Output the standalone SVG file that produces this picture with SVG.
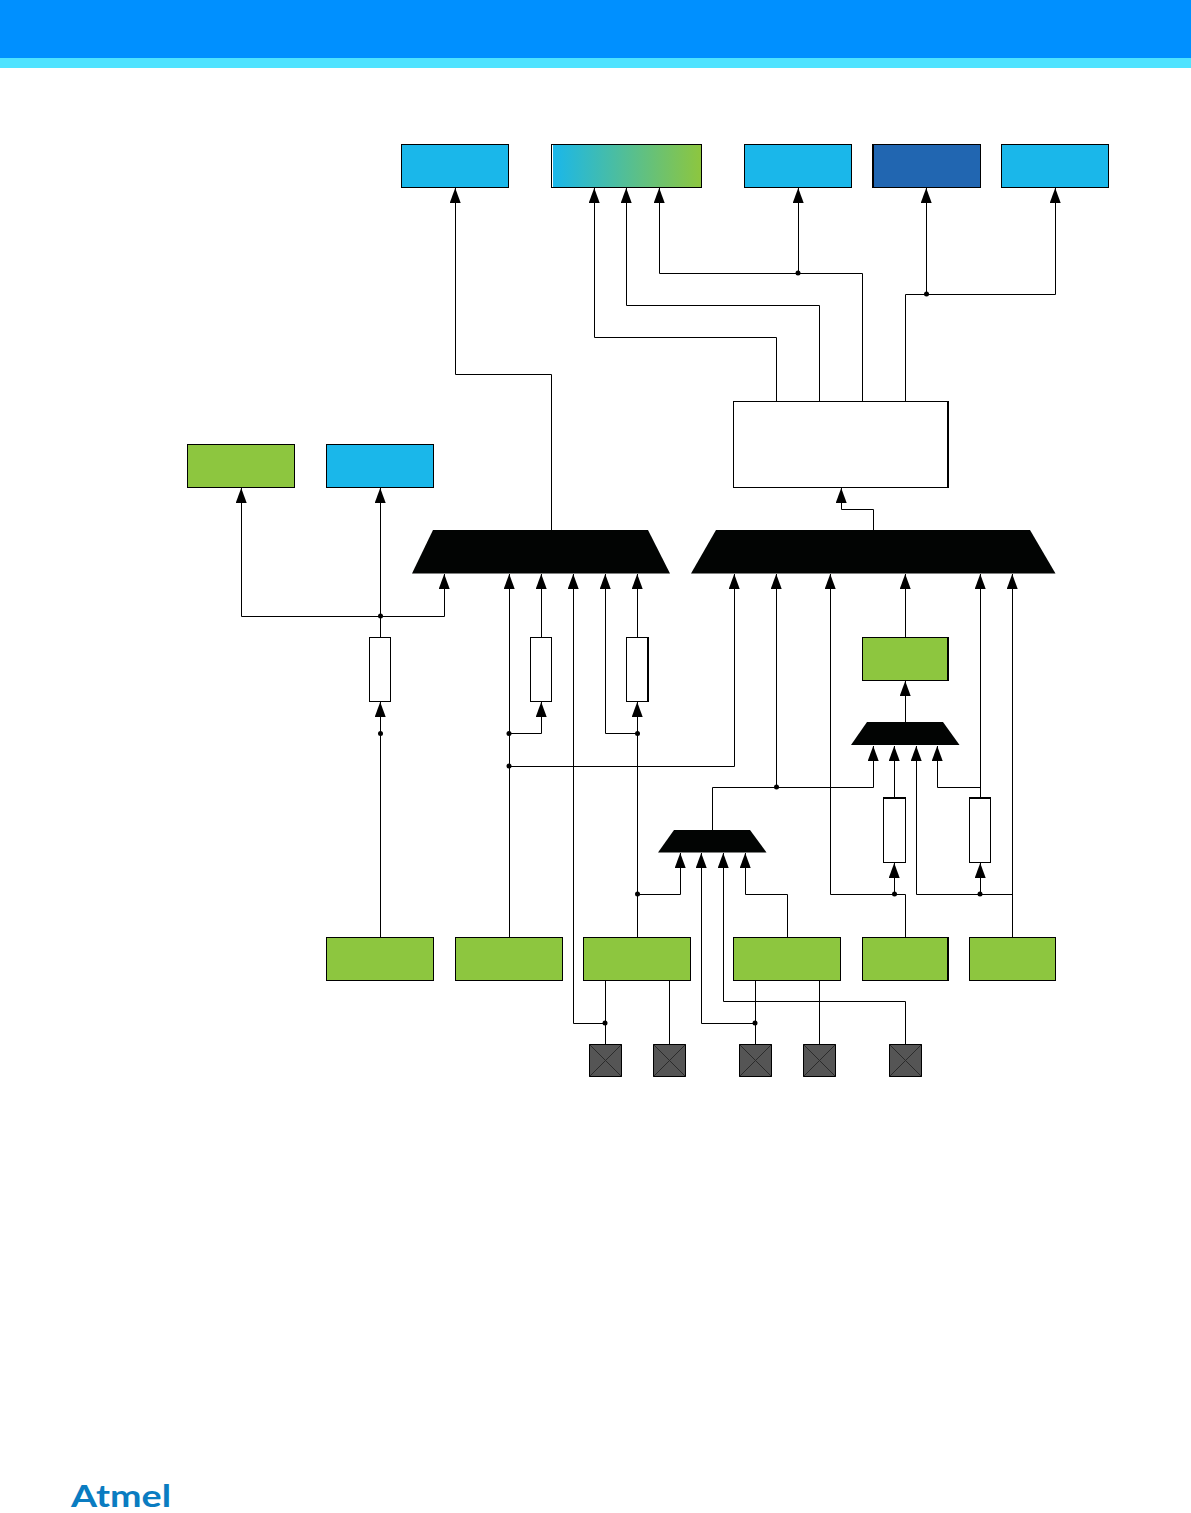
<svg xmlns="http://www.w3.org/2000/svg" width="1191" height="1513" viewBox="0 0 1191 1513">
<style>
.c{fill:none;stroke:#000;stroke-width:1}
.a{marker-end:url(#arr)}
.b{stroke:#000;stroke-width:1}
.e{fill:none;stroke:#000;stroke-width:2}
.blue{fill:#1ab7ea}
.green{fill:#8dc63f}
.white{fill:#fff}
.mux{fill:#020403}
.pad{fill:#555}
.x{stroke:#2b2b2b;stroke-width:1;fill:none}
.d{fill:#000}
</style>
<defs>
<marker id="arr" markerUnits="userSpaceOnUse" markerWidth="15" markerHeight="12" refX="15" refY="5.800" orient="auto"><path d="M0,0L15,5.500L0,11z" fill="#000"/></marker>
<linearGradient id="g"><stop offset="0" stop-color="#1ab7ea"/><stop offset="1" stop-color="#8dc63f"/></linearGradient>
</defs>
<rect width="1191" height="1513" fill="#fff"/>
<g id="header"><rect width="1191" height="58" fill="#0090ff"/><rect y="58" width="1191" height="10" fill="#4fe3ff"/></g>
<g id="connectors">
<path class="c a" d="M551.500,530V374.500H455.500V188"/>
<path class="c a" d="M776.500,401V337.500H594.500V188"/>
<path class="c a" d="M819.500,401V305.500H626.500V188"/>
<path class="c a" d="M862.500,401V273.500H659.500V188"/>
<path class="c a" d="M798.500,273V188"/>
<path class="c a" d="M905.500,401V294.500H1055.500V188"/>
<path class="c a" d="M926.500,294V188"/>
<path class="c a" d="M873.500,530V509.500H841.500V488"/>
<path class="c a" d="M241.500,616.500V488"/>
<path class="c a" d="M241.500,616.500H444.500V574"/>
<path class="c a" d="M380.500,637V488"/>
<path class="c a" d="M380.500,937V702"/>
<path class="c a" d="M509.500,937V574"/>
<path class="c a" d="M509.500,733.500H541.500V702"/>
<path class="c a" d="M509.500,766.500H734.500V574"/>
<path class="c a" d="M541.500,637V574"/>
<path class="c a" d="M605.500,1023.500H573.500V574"/>
<path class="c a" d="M637.500,733.500H605.500V574"/>
<path class="c a" d="M637.500,937V702"/>
<path class="c a" d="M637.500,637V574"/>
<path class="c a" d="M637.500,894.500H680.500V853"/>
<path class="c" d="M605.500,980V1044M669.500,980V1044M755.500,980V1044M819.500,980V1044"/>
<path class="c a" d="M755.500,1023.500H701.500V853"/>
<path class="c a" d="M905.500,1044V1001.500H723.500V853"/>
<path class="c a" d="M787.500,937V894.500H745.500V853"/>
<path class="c a" d="M712.500,830V787.500H873.500V746"/>
<path class="c a" d="M776.500,787V574"/>
<path class="c a" d="M894.500,798V746"/>
<path class="c a" d="M1012.500,894.500H916.500V746"/>
<path class="c a" d="M980.500,787.500H937.500V746"/>
<path class="c a" d="M980.500,798V574"/>
<path class="c a" d="M980.500,894V863"/>
<path class="c a" d="M905.500,937V894.500H830.500V574"/>
<path class="c a" d="M894.500,894V863"/>
<path class="c a" d="M1012.500,937V574"/>
<path class="c a" d="M905.500,722V681"/>
<path class="c a" d="M905.500,637V574"/>
<g id="junctions" class="d">
<circle cx="798" cy="273" r="2.500"/><circle cx="926.500" cy="294" r="2.500"/><circle cx="380.500" cy="616" r="2.500"/><circle cx="380.500" cy="733.500" r="2.500"/><circle cx="509" cy="733.500" r="2.500"/><circle cx="509" cy="766" r="2.500"/><circle cx="637.500" cy="733.500" r="2.500"/><circle cx="637.500" cy="894" r="2.500"/><circle cx="605" cy="1023" r="2.500"/><circle cx="755" cy="1023" r="2.500"/><circle cx="776.500" cy="787" r="2.500"/><circle cx="894.500" cy="894" r="2.500"/><circle cx="980" cy="894" r="2.500"/>
</g>
</g>
<g id="top1"><rect class="b blue" x="401.500" y="144.500" width="107" height="43"/></g>
<g id="top2"><rect class="b white" x="551.500" y="144.500" width="150" height="43"/><rect fill="url(#g)" x="553" y="145" width="148" height="42"/></g>
<g id="top3"><rect class="b blue" x="744.500" y="144.500" width="107" height="43"/></g>
<g id="top4"><rect class="b" fill="#2166b1" x="873.500" y="144.500" width="107" height="43"/><path class="e" d="M873,144V188"/></g>
<g id="top5"><rect class="b blue" x="1001.500" y="144.500" width="107" height="43"/></g>
<g id="left1"><rect class="b green" x="187.500" y="444.500" width="107" height="43"/></g>
<g id="left2"><rect class="b blue" x="326.500" y="444.500" width="107" height="43"/></g>
<g id="core"><rect class="b white" x="733.500" y="401.500" width="214" height="86"/><path class="e" d="M948,401V488"/></g>
<g id="mux1"><path class="mux" d="M433,530H648L670,573.500H412z"/></g>
<g id="mux2"><path class="mux" d="M716,530H1030L1055.500,573.500H691z"/></g>
<g id="mux3"><path class="mux" d="M867,722H943L959.500,745H851z"/></g>
<g id="mux4"><path class="mux" d="M674,830H750L766.500,852.500H658z"/></g>
<g id="mid-green"><rect class="b green" x="862.500" y="637.500" width="85" height="43"/><path class="e" d="M948,637V681"/></g>
<g id="r1"><rect class="b white" x="369.500" y="637.500" width="21" height="64"/></g>
<g id="r2"><rect class="b white" x="530.500" y="637.500" width="21" height="64"/></g>
<g id="r3"><rect class="b white" x="626.500" y="637.500" width="21" height="64"/><path class="e" d="M648,637V702"/></g>
<g id="r4"><rect class="b white" x="883.500" y="798.500" width="22" height="64"/><path class="e" d="M883,798H906"/></g>
<g id="r5"><rect class="b white" x="969.500" y="798.500" width="21" height="64"/><path class="e" d="M969,798H991"/></g>
<g id="b1"><rect class="b green" x="326.500" y="937.500" width="107" height="43"/></g>
<g id="b2"><rect class="b green" x="455.500" y="937.500" width="107" height="43"/></g>
<g id="b3"><rect class="b green" x="583.500" y="937.500" width="107" height="43"/></g>
<g id="b4"><rect class="b green" x="733.500" y="937.500" width="107" height="43"/></g>
<g id="b5"><rect class="b green" x="862.500" y="937.500" width="85" height="43"/><path class="e" d="M948,937V981"/></g>
<g id="b6"><rect class="b green" x="969.500" y="937.500" width="86" height="43"/></g>
<g id="p1"><rect class="b pad" x="589.500" y="1044.500" width="32" height="32"/><path class="x" d="M589.500,1044.500l32,32m0-32l-32,32"/></g>
<g id="p2"><rect class="b pad" x="653.500" y="1044.500" width="32" height="32"/><path class="x" d="M653.500,1044.500l32,32m0-32l-32,32"/></g>
<g id="p3"><rect class="b pad" x="739.500" y="1044.500" width="32" height="32"/><path class="x" d="M739.500,1044.500l32,32m0-32l-32,32"/></g>
<g id="p4"><rect class="b pad" x="803.500" y="1044.500" width="32" height="32"/><path class="x" d="M803.500,1044.500l32,32m0-32l-32,32"/></g>
<g id="p5"><rect class="b pad" x="889.500" y="1044.500" width="32" height="32"/><path class="x" d="M889.500,1044.500l32,32m0-32l-32,32"/></g>
<g id="logo"><text x="71" y="1506.500" font-family="Lato,'Liberation Sans',sans-serif" font-weight="700" font-size="30" fill="#0a7cc1" textLength="100" lengthAdjust="spacingAndGlyphs">Atmel</text></g>
</svg>
